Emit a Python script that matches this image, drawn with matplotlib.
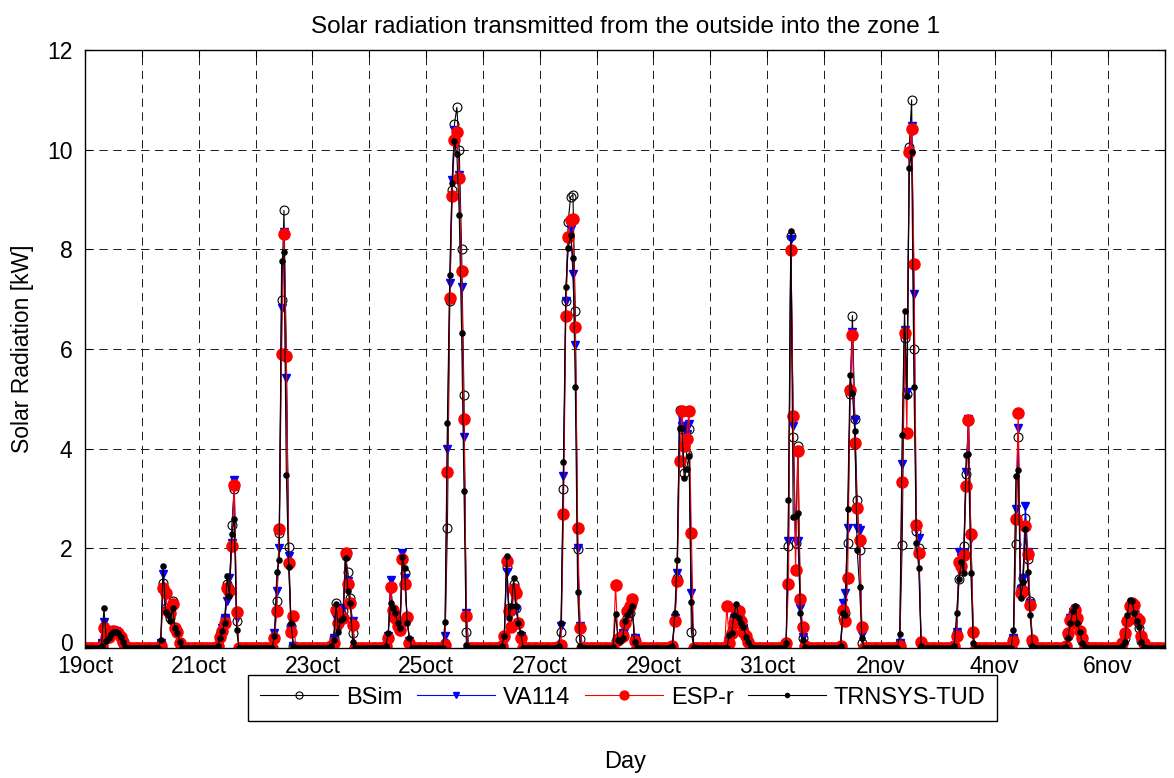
import numpy as np
import matplotlib
matplotlib.use("Agg")
import matplotlib.pyplot as plt
import matplotlib.transforms as mtransforms

plt.rcParams['font.family'] = ['Liberation Sans', 'DejaVu Sans']
plt.rcParams['lines.scale_dashes'] = False

# daytime values per day, hours 6..18 (night hours are 0)
day_hours = list(range(6, 19))
day_labels = ['19oct', '', '21oct', '', '23oct', '', '25oct', '', '27oct', '',
              '29oct', '', '31oct', '', '2nov', '', '4nov', '', '6nov', '']

bsim = [
    [0, 0.1, 0.45, 0.2, 0.22, 0.3, 0.35, 0.34, 0.3, 0.22, 0.12, 0.03, 0],
    [0, 0, 0.1, 1.3, 0.8, 0.75, 0.6, 0.95, 0.4, 0.3, 0.1, 0, 0],
    [0, 0, 0.05, 0.2, 0.35, 0.6, 1.28, 1.2, 2.46, 3.2, 0.55, 0, 0],
    [0, 0, 0.2, 0.95, 2.3, 6.98, 8.78, 5.85, 2.03, 0.45, 0.05, 0, 0],
    [0, 0, 0.05, 0.2, 0.91, 0.5, 0.7, 0.75, 1.85, 1.52, 1.0, 0.3, 0],
    [0, 0.05, 0.25, 1.2, 0.75, 0.7, 0.55, 0.45, 1.8, 1.5, 0.6, 0.15, 0],
    [0, 0, 0.1, 2.4, 6.96, 9.2, 10.52, 10.85, 10.0, 8.0, 5.07, 0.33, 0],
    [0, 0, 0.05, 0.2, 1.62, 0.8, 0.75, 1.28, 0.8, 0.5, 0.25, 0, 0],
    [0, 0, 0.05, 0.33, 3.19, 6.96, 8.55, 9.05, 9.1, 6.76, 1.99, 0.18, 0],
    [0, 0, 0.15, 0.15, 0.2, 0.3, 0.5, 0.6, 0.7, 0.9, 0.2, 0, 0],
    [0, 0, 0.05, 0.55, 1.4, 4.78, 4.4, 3.52, 3.9, 4.4, 0.33, 0, 0],
    [0, 0, 0.2, 0.3, 0.6, 0.8, 0.65, 0.5, 0.4, 0.25, 0.12, 0, 0],
    [0, 0, 0.05, 2.04, 8.26, 4.23, 2.1, 4.05, 0.94, 0.2, 0, 0, 0],
    [0, 0.05, 0.6, 0.7, 2.1, 5.1, 6.67, 4.6, 2.98, 1.97, 0.1, 0, 0],
    [0, 0, 0.1, 2.07, 6.22, 5.1, 10.06, 11.0, 6.0, 2.35, 2.0, 0.1, 0],
    [0, 0.05, 0.3, 1.39, 1.6, 2.04, 3.5, 4.55, 2.28, 0.3, 0, 0, 0],
    [0, 0, 0.2, 2.08, 4.23, 1.2, 1.4, 2.6, 1.78, 0.94, 0.1, 0, 0],
    [0.02, 0.25, 0.55, 0.7, 0.8, 0.55, 0.35, 0.15, 0.05, 0, 0, 0, 0],
    [0, 0.2, 0.55, 0.85, 0.9, 0.75, 0.55, 0.4, 0.15, 0.05, 0, 0, 0],
]

va114 = [
    [0, 0.1, 0.52, 0.2, 0.22, 0.3, 0.36, 0.35, 0.3, 0.22, 0.12, 0.03, 0],
    [0, 0, 0.1, 1.48, 0.75, 0.7, 0.6, 0.85, 0.37, 0.3, 0.1, 0, 0],
    [0, 0, 0.05, 0.25, 0.4, 0.6, 0.94, 1.4, 2.1, 3.37, 0.6, 0, 0],
    [0, 0, 0.3, 1.15, 2.0, 6.82, 8.35, 5.42, 1.85, 0.4, 0.05, 0, 0],
    [0, 0, 0.05, 0.2, 0.6, 0.37, 0.77, 0.8, 1.9, 1.35, 0.9, 0.54, 0],
    [0, 0.05, 0.24, 1.37, 0.7, 0.65, 0.5, 0.4, 1.9, 1.4, 0.6, 0.15, 0],
    [0, 0, 0.25, 4.0, 7.32, 9.4, 10.4, 10.3, 9.5, 7.24, 4.23, 0.7, 0],
    [0, 0, 0.05, 0.2, 1.52, 0.7, 0.7, 1.2, 0.77, 0.5, 0.25, 0, 0],
    [0, 0, 0.05, 0.44, 3.45, 6.96, 8.25, 8.4, 7.5, 6.09, 2.0, 0.44, 0],
    [0, 0, 0.1, 0.15, 0.2, 0.3, 0.37, 0.67, 0.7, 0.85, 0.2, 0, 0],
    [0, 0, 0.05, 0.6, 1.5, 4.68, 4.45, 4.45, 4.3, 4.5, 1.1, 0, 0],
    [0, 0, 0.15, 0.35, 0.6, 0.75, 0.6, 0.5, 0.4, 0.25, 0.12, 0, 0],
    [0, 0, 0.05, 2.14, 8.2, 4.45, 2.14, 2.14, 0.8, 0.22, 0, 0, 0],
    [0, 0.05, 0.9, 1.1, 2.41, 5.12, 6.35, 4.58, 2.41, 2.36, 0.27, 0, 0],
    [0, 0, 0.1, 3.69, 6.39, 5.13, 9.87, 10.47, 7.11, 2.39, 2.2, 0.1, 0],
    [0, 0.05, 0.32, 1.93, 1.8, 1.9, 3.54, 4.6, 2.2, 0.3, 0, 0, 0],
    [0, 0, 0.2, 2.79, 4.41, 1.19, 1.4, 2.85, 1.93, 0.9, 0.1, 0, 0],
    [0.02, 0.25, 0.6, 0.72, 0.78, 0.5, 0.3, 0.15, 0.05, 0, 0, 0, 0],
    [0, 0.2, 0.5, 0.8, 0.88, 0.7, 0.5, 0.45, 0.15, 0.05, 0, 0, 0],
]

espr = [
    [0, 0.05, 0.4, 0.22, 0.22, 0.3, 0.34, 0.33, 0.3, 0.22, 0.12, 0.03, 0],
    [0, 0, 0.05, 1.2, 1.1, 0.74, 0.71, 0.89, 0.4, 0.32, 0.1, 0, 0],
    [0, 0, 0.05, 0.23, 0.35, 0.5, 1.21, 1.14, 2.05, 3.27, 0.72, 0, 0],
    [0, 0, 0.2, 0.75, 2.38, 5.89, 8.31, 5.85, 1.7, 0.33, 0.65, 0, 0],
    [0, 0, 0.05, 0.1, 0.77, 0.5, 0.6, 0.6, 1.9, 1.28, 0.91, 0.47, 0],
    [0, 0.05, 0.2, 1.23, 0.76, 0.6, 0.45, 0.37, 1.78, 1.28, 0.63, 0.1, 0],
    [0, 0, 0.07, 3.54, 7.03, 9.07, 10.2, 10.35, 9.44, 7.56, 4.6, 0.65, 0],
    [0, 0, 0.05, 0.25, 1.75, 0.74, 0.42, 1.18, 1.11, 0.5, 0.2, 0, 0],
    [0, 0, 0.02, 0.07, 2.69, 6.67, 8.25, 8.58, 8.6, 6.44, 2.4, 0.4, 0],
    [0, 0, 1.26, 0.18, 0.2, 0.24, 0.5, 0.74, 0.84, 0.98, 0.15, 0, 0],
    [0, 0, 0.05, 0.54, 1.34, 3.75, 4.76, 4.05, 4.2, 4.76, 2.31, 0, 0],
    [0, 0.85, 0.1, 0.3, 0.5, 0.77, 0.75, 0.54, 0.33, 0.25, 0.13, 0.03, 0],
    [0, 0, 0.1, 1.29, 7.98, 4.65, 1.56, 3.95, 0.98, 0.43, 0.05, 0, 0],
    [0, 0.05, 0.77, 0.54, 1.4, 5.18, 6.29, 4.11, 2.81, 2.16, 0.43, 0, 0],
    [0, 0, 0.05, 3.33, 6.32, 4.32, 9.95, 10.41, 7.7, 2.47, 1.91, 0.13, 0],
    [0, 0.05, 0.24, 1.73, 1.65, 1.87, 3.26, 4.58, 2.28, 0.32, 0, 0, 0],
    [0, 0, 0.15, 2.58, 4.72, 1.1, 1.15, 2.45, 1.88, 0.87, 0.17, 0, 0],
    [0.05, 0.31, 0.57, 0.5, 0.77, 0.6, 0.35, 0.2, 0.03, 0, 0, 0, 0],
    [0.1, 0.3, 0.54, 0.84, 0.9, 0.87, 0.6, 0.57, 0.25, 0.1, 0, 0, 0],
]

trnsys = [
    [0, 0.05, 0.8, 0.15, 0.2, 0.28, 0.33, 0.33, 0.3, 0.22, 0.12, 0.03, 0],
    [0, 0, 0.17, 1.65, 0.72, 0.67, 0.54, 0.8, 0.4, 0.3, 0.13, 0, 0],
    [0, 0, 0.05, 0.2, 0.35, 0.5, 1.45, 1.04, 2.29, 2.59, 0.36, 0, 0],
    [0, 0, 0.25, 1.53, 1.76, 7.76, 7.95, 3.48, 1.63, 0.5, 0.05, 0, 0],
    [0, 0, 0.05, 0.16, 0.88, 0.32, 0.57, 0.6, 1.8, 1.14, 0.9, 0.13, 0],
    [0, 0.05, 0.3, 0.9, 0.8, 0.71, 0.5, 0.4, 1.82, 1.6, 0.5, 0.2, 0],
    [0, 0, 0.53, 4.52, 7.49, 9.33, 10.17, 9.91, 8.69, 6.33, 3.16, 0.07, 0],
    [0, 0, 0.05, 0.24, 1.84, 0.6, 0.84, 1.41, 0.84, 0.5, 0.3, 0, 0],
    [0, 0, 0.05, 0.51, 3.73, 7.24, 8.02, 8.29, 7.83, 5.24, 1.13, 0.05, 0],
    [0, 0.02, 0.69, 0.17, 0.15, 0.2, 0.54, 0.67, 0.75, 0.84, 0.13, 0, 0],
    [0, 0, 0.05, 0.7, 1.76, 4.41, 4.41, 3.41, 3.6, 3.85, 0.92, 0.02, 0],
    [0, 0, 0.27, 0.3, 0.67, 0.89, 0.6, 0.5, 0.43, 0.23, 0.13, 0.03, 0],
    [0, 0, 0.1, 2.96, 8.36, 2.62, 2.65, 2.71, 0.7, 0.17, 0.02, 0, 0],
    [0, 0.05, 0.7, 0.67, 2.78, 5.48, 5.12, 4.35, 1.97, 1.22, 0.2, 0, 0],
    [0, 0, 0.28, 4.28, 6.76, 5.06, 9.63, 9.95, 5.24, 2.1, 1.61, 0.05, 0],
    [0, 0.05, 0.71, 1.39, 1.73, 1.5, 3.87, 3.9, 1.5, 0.1, 0, 0, 0],
    [0, 0, 0.37, 3.46, 3.58, 1.0, 1.32, 2.38, 1.52, 0.67, 0.05, 0, 0],
    [0.02, 0.2, 0.5, 0.74, 0.85, 0.5, 0.33, 0.1, 0.03, 0, 0, 0, 0],
    [0.05, 0.13, 0.67, 0.97, 0.95, 0.7, 0.54, 0.43, 0.13, 0.03, 0, 0, 0],
]

n_days = len(day_labels) - 1


def hourly(days):
    v = np.zeros(n_days * 24)
    for d, vals in enumerate(days):
        for h, val in zip(day_hours, vals):
            v[d * 24 + h] = val
    return v


t = np.arange(n_days * 24) / 24.0

fig = plt.figure(figsize=(11.74, 7.78), dpi=100)
ax = fig.add_axes([0.0724, 0.1671, 0.92, 0.7686])

ax.plot(t, hourly(bsim), color='k', lw=0.8, marker='o', ms=6.4,
        mfc='none', mec='k', mew=0.8, label='BSim')
ax.plot(t, hourly(va114), color='b', lw=0.8, marker='v', ms=5.8,
        mfc='b', mec='b', label='VA114')
ax.plot(t, hourly(espr), color='r', lw=0.8, marker='o', ms=8,
        mfc='r', mec='r', label='ESP-r')
ax.plot(t, hourly(trnsys), color='k', lw=0.8, marker='o', ms=3.7,
        mfc='k', mec='k', label='TRNSYS-TUD')

ax.set_xlim(0, n_days)
ax.set_ylim(0, 12)
ax.set_xticks(np.arange(len(day_labels)))
ax.set_xticklabels(day_labels)
ax.set_yticks(np.arange(0, 13, 2))
ax.tick_params(direction='in', top=True, right=True, labelsize=16.5, length=5)
ax.tick_params(axis='x', pad=5)
ax.tick_params(axis='y', pad=9)
ax.grid(True, color='0.1', lw=0.7, linestyle=(0, (6, 4)))
for s in ax.spines.values():
    s.set_linewidth(1.0)

# lift the "0" label a little so it clears "19oct"
lab0 = ax.get_yticklabels()[0]
lab0.set_transform(lab0.get_transform() +
                   mtransforms.ScaledTranslation(0, 4 / 72, fig.dpi_scale_trans))

ax.set_title('Solar radiation transmitted from the outside into the zone 1',
             fontsize=17.5, pad=12)
ax.set_ylabel('Solar Radiation [kW]', fontsize=16.5)
ax.yaxis.set_label_coords(-0.058, 0.5)
ax.yaxis.label.set_va('center')
ax.set_xlabel('Day', fontsize=17)
ax.xaxis.set_label_coords(0.5, -0.19)
ax.xaxis.label.set_va('center')

leg = ax.legend(loc='upper center', bbox_to_anchor=(0.498, -0.045), ncol=4,
                fontsize=17, frameon=True, fancybox=False, edgecolor='k',
                framealpha=1, handlelength=3.3, handletextpad=0.35,
                columnspacing=0.6, borderpad=0.5, borderaxespad=0,
                markerscale=0.8)
leg.get_frame().set_linewidth(1.0)

fig.savefig('out.png', dpi=100)
